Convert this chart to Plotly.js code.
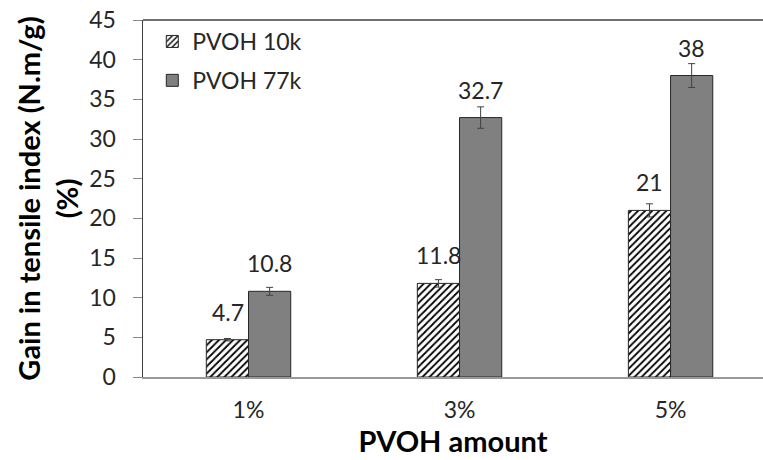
<!DOCTYPE html>
<html>
<head>
<meta charset="utf-8">
<script src="https://cdn.plot.ly/plotly-3.0.1.min.js"></script>
<style>html,body{margin:0;padding:0;background:#fff;overflow:hidden}</style>
</head>
<body>
<div id="chart" style="width:763px;height:460px"></div>
<script>
const categories = ["1%", "3%", "5%"];
const seriesNames = ["PVOH 10k", "PVOH 77k"];
const pvoh10k = [4.7, 11.8, 21];
const pvoh77k = [10.8, 32.7, 38];
const err10k = [0.15, 0.47, 0.83];
const err77k = [0.5, 1.35, 1.5];
const yTicks = [0, 5, 10, 15, 20, 25, 30, 35, 40, 45];

const FONT = "Lato, 'Open Sans', sans-serif";
const TXT = "#262626";

const traces = [
  {
    type: "bar", name: seriesNames[0], x: categories, y: pvoh10k,
    legendgroup: "a",
    marker: {color: "#ffffff", line: {color: "#262626", width: 1},
      pattern: {shape: "/", fgcolor: "#000000", bgcolor: "#ffffff", size: 5, solidity: 0.35}},
    error_y: {type: "data", array: err10k, visible: true, color: "#404040", thickness: 1, width: 3.5},
    hoverinfo: "none"
  },
  {
    type: "bar", name: seriesNames[1], x: categories, y: pvoh77k,
    legendgroup: "b",
    marker: {color: "#808080", line: {color: "#262626", width: 1}},
    error_y: {type: "data", array: err77k, visible: true, color: "#404040", thickness: 1, width: 3.5},
    hoverinfo: "none"
  }
];

const annotations = [];
[[pvoh10k, -21], [pvoh77k, 21]].forEach(([vals, dx]) => {
  vals.forEach((v, i) => {
    annotations.push({
      xref: "x", yref: "y", x: categories[i], y: v, xshift: dx, yshift: 12,
      yanchor: "bottom", showarrow: false, text: String(v),
      font: {family: FONT, size: 23, color: TXT}
    });
  });
});

const layout = {
  width: 763, height: 460,
  margin: {l: 143, r: 0, t: 20, b: 83, pad: 0},
  paper_bgcolor: "#ffffff", plot_bgcolor: "#ffffff",
  font: {family: FONT, size: 23, color: TXT},
  barmode: "group", bargap: 0.6, bargroupgap: 0,
  showlegend: true,
  legend: {x: 0.015, y: 1.0, xanchor: "left", yanchor: "top",
    font: {family: FONT, size: 23, color: TXT}, bgcolor: "rgba(0,0,0,0)",
    traceorder: "grouped", tracegroupgap: 6, itemwidth: 30},
  xaxis: {
    type: "category", range: [-0.5, 2.438],
    showline: true, linecolor: "#999999", linewidth: 2,
    ticks: "", ticklabelstandoff: 11,
    tickfont: {family: FONT, size: 23, color: TXT},
    showgrid: false, zeroline: false, fixedrange: true,
    title: {text: "<b>PVOH amount</b>", font: {family: FONT, size: 29, color: "#000000"}, standoff: 5}
  },
  yaxis: {
    range: [0, 45], tickvals: yTicks, ticktext: yTicks.map(String),
    showline: true, linecolor: "#404040", linewidth: 1.5,
    ticks: "outside", ticklen: 9, tickcolor: "#888888", tickwidth: 1,
    ticklabelstandoff: 12,
    tickfont: {family: FONT, size: 23, color: TXT},
    showgrid: false, zeroline: false, fixedrange: true,
    title: {text: "<b>Gain in tensile index (N.m/g)<br>(%)</b>", font: {family: FONT, size: 29, color: "#000000"}, standoff: 2}
  },
  shapes: [
    {type: "line", xref: "paper", yref: "paper", x0: 0, x1: 1, y0: 1, y1: 1,
     line: {color: "#404040", width: 1.5}}
  ],
  annotations: annotations
};

Plotly.newPlot("chart", traces, layout, {displayModeBar: false, staticPlot: true});
</script>
</body>
</html>
